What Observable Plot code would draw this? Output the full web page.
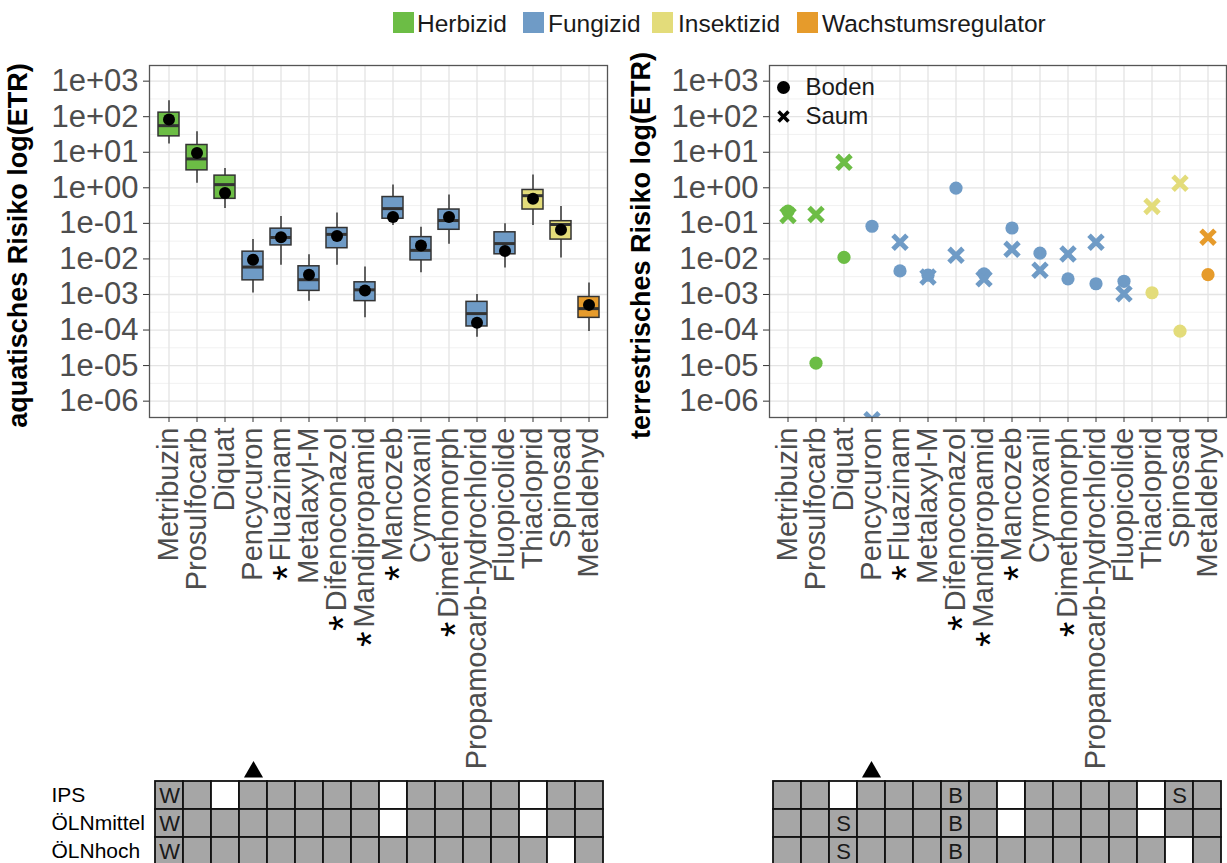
<!DOCTYPE html>
<html><head><meta charset="utf-8">
<script src="https://cdn.jsdelivr.net/npm/d3@7"></script>
<script src="https://cdn.jsdelivr.net/npm/@observablehq/plot@0.6"></script>
<style>
body{margin:0;width:1227px;height:863px;overflow:hidden;background:#fff;font-family:"Liberation Sans",Arial,sans-serif;position:relative}
.abs{position:absolute}
.key{position:absolute;top:12px;width:21px;height:21px}
.lab{position:absolute;top:10px;font-size:24.5px;line-height:28px;color:#1a1a1a;white-space:nowrap}
</style></head><body>
<div id="legend"></div>
<div id="left" class="abs" style="left:0;top:0"></div>
<div id="right" class="abs" style="left:615px;top:0"></div>
<div id="gridL" class="abs" style="left:0;top:760px"></div>
<div id="gridR" class="abs" style="left:615px;top:760px"></div>
<script>
// ---------- data ----------
const substances = ["Metribuzin","Prosulfocarb","Diquat","Pencycuron","Fluazinam","Metalaxyl-M","Difenoconazol","Mandipropamid","Mancozeb","Cymoxanil","Dimethomorph","Propamocarb-hydrochlorid","Fluopicolide","Thiacloprid","Spinosad","Metaldehyd"];
const substanceClass = ["Herbizid","Herbizid","Herbizid","Fungizid","Fungizid","Fungizid","Fungizid","Fungizid","Fungizid","Fungizid","Fungizid","Fungizid","Fungizid","Insektizid","Insektizid","Wachstumsregulator"];
const starred = ["Fluazinam","Difenoconazol","Mandipropamid","Mancozeb","Dimethomorph"];
const classes = ["Herbizid","Fungizid","Insektizid","Wachstumsregulator"];
const classColors = ["#6cbd45","#6f9bc6","#e3dc7a","#e69b2b"];

// aquatic risk (boxplot statistics + point)
const aqWhiskerHigh = [2.8e2, 3.8e1, 3.5, 3.5e-2, 1.55e-1, 1.3e-2, 1.95e-1, 5.9e-3, 1.2, 7.8e-2, 6.3e-1, 1.0e-3, 9.8e-2, 2.3, 3.0e-1, 2.1e-3];
const aqQ3          = [1.3e2, 1.6e1, 2.2, 1.6e-2, 7.1e-2, 6.2e-3, 7.4e-2, 2.2e-3, 5.5e-1, 4.1e-2, 2.45e-1, 6.2e-4, 5.6e-2, 8.7e-1, 1.15e-1, 8.5e-4];
const aqMedian      = [5.6e1, 6.5, 1.23, 5.9e-3, 4.0e-2, 2.6e-3, 4.9e-2, 1.35e-3, 2.6e-1, 1.74e-2, 1.2e-1, 2.9e-4, 2.7e-2, 6.0e-1, 9.3e-2, 4.0e-4];
const aqQ1          = [2.8e1, 3.1, 4.9e-1, 2.5e-3, 2.4e-2, 1.26e-3, 2.0e-2, 6.5e-4, 1.35e-1, 9.1e-3, 6.6e-2, 1.26e-4, 1.35e-2, 2.45e-1, 3.5e-2, 2.2e-4];
const aqWhiskerLow  = [1.7e1, 1.35, 2.6e-1, 1.1e-3, 6.6e-3, 6.5e-4, 6.6e-3, 2.2e-4, 8.7e-2, 4.1e-3, 2.6e-2, 6.3e-5, 5.6e-3, 8.7e-2, 1.07e-2, 9.1e-5];
const aqPoint       = [8.3e1, 9.5, 7.2e-1, 9.5e-3, 4.1e-2, 3.6e-3, 4.4e-2, 1.3e-3, 1.5e-1, 2.4e-2, 1.5e-1, 1.6e-4, 1.66e-2, 4.9e-1, 6.6e-2, 5.1e-4];

// terrestrial risk
const terrBoden = [2.2e-1, 1.17e-5, 1.1e-2, 8.3e-2, 4.6e-3, 3.5e-3, 9.8e-1, 3.8e-3, 7.4e-2, 1.45e-2, 2.75e-3, 2.0e-3, 2.35e-3, 1.12e-3, 9.3e-5, 3.6e-3];
const terrSaum  = [1.66e-1, 1.78e-1, 5.2, 3.0e-7, 2.95e-2, 3.1e-3, 1.26e-2, 2.75e-3, 1.86e-2, 4.8e-3, 1.38e-2, 2.95e-2, 1.05e-3, 3.0e-1, 1.35, 4.1e-2];

const yTickExponents = [3, 2, 1, 0, -1, -2, -3, -4, -5, -6];
const yDomainExponents = [-6.46, 3.44];

// status grids
const gridRows = ["IPS", "ÖLNmittel", "ÖLNhoch"];
const gridLeft = [
  ["W","g","w","g","g","g","g","g","w","g","g","g","g","w","g","g"],
  ["W","g","g","g","g","g","g","g","w","g","g","g","g","w","g","g"],
  ["W","g","g","g","g","g","g","g","g","g","g","g","g","g","w","g"]
];
const gridRight = [
  ["g","g","w","g","g","g","B","g","w","g","g","g","g","w","S","g"],
  ["g","g","S","g","g","g","B","g","w","g","g","g","g","w","g","g"],
  ["g","g","S","g","g","g","B","g","g","g","g","g","g","g","w","g"]
];
const markedSubstance = "Pencycuron";

// ---------- tables ----------
const aq = substances.map((s, i) => ({s, cls: substanceClass[i], hi: aqWhiskerHigh[i], q3: aqQ3[i], med: aqMedian[i], q1: aqQ1[i], lo: aqWhiskerLow[i], pt: aqPoint[i]}));
const terr = substances.map((s, i) => ({s, cls: substanceClass[i], boden: terrBoden[i], saum: terrSaum[i]}));

// ---------- legend ----------
const legendPos = [[393, 417], [523, 548], [652, 678], [797, 822]];
const lg = document.getElementById("legend");
classes.forEach((c, i) => {
  const k = document.createElement("div"); k.className = "key"; k.style.left = legendPos[i][0] + "px"; k.style.background = classColors[i]; lg.appendChild(k);
  const t = document.createElement("div"); t.className = "lab"; t.style.left = legendPos[i][1] + "px"; t.textContent = c; lg.appendChild(t);
});

// ---------- helpers ----------
const font = "'Liberation Sans', Arial, sans-serif";
const fmt = d => { const e = Math.round(Math.log10(d)); return "1e" + (e < 0 ? "-" : "+") + String(Math.abs(e)).padStart(2, "0"); };
const yTicks = yTickExponents.map(e => 10 ** e);
const yMinor = yTickExponents.map(e => 10 ** (e - 0.5)).filter(v => Math.log10(v) > yDomainExponents[0]);
const yDomain = yDomainExponents.map(e => 10 ** e);
const xLabel = d => starred.includes(d) ? "*" + d : d;

function starLabels(svg) {
  svg.querySelectorAll("text").forEach(t => {
    const s = t.textContent;
    if (s.startsWith("*") && starred.includes(s.slice(1))) {
      while (t.firstChild) t.removeChild(t.firstChild);
      const a = document.createElementNS("http://www.w3.org/2000/svg", "tspan");
      a.textContent = "*"; a.setAttribute("fill", "black"); a.setAttribute("font-size", "40"); a.setAttribute("dy", "11");
      const b = document.createElementNS("http://www.w3.org/2000/svg", "tspan");
      b.textContent = s.slice(1); b.setAttribute("dy", "-11"); b.setAttribute("dx", "4");
      t.appendChild(a); t.appendChild(b);
    }
  });
}

function basePanel(W, ml, mr, title, titleDx, marks) {
  return Plot.plot({
    width: W, height: 780, marginLeft: ml, marginRight: mr, marginTop: 65, marginBottom: 363,
    style: {fontFamily: font, background: "transparent", overflow: "visible"},
    x: {type: "band", domain: substances, paddingInner: 0.25, paddingOuter: 0.225, axis: null},
    y: {type: "log", domain: yDomain, axis: null},
    color: {domain: classes, range: classColors},
    marks: [
      Plot.ruleY(yMinor, {stroke: "#efefef", strokeWidth: 0.9}),
      Plot.ruleY(yTicks, {stroke: "#e4e4e4", strokeWidth: 1.3}),
      Plot.ruleX(substances, {x: d => d, stroke: "#e4e4e4", strokeWidth: 1.3}),
      ...marks,
      Plot.frame({stroke: "#555", strokeWidth: 1.3}),
      Plot.axisY({ticks: yTicks, tickFormat: fmt, fontSize: 31, tickSize: 6, tickPadding: 5, label: null, fill: "#4d4d4d", stroke: "#333"}),
      Plot.axisX({tickFormat: xLabel, tickRotate: -90, fontSize: 29, tickSize: 5, tickPadding: 5, label: null, fill: "#4d4d4d", stroke: "#333"}),
      Plot.text([title], {text: d => d, frameAnchor: "left", textAnchor: "middle", rotate: -90, dx: titleDx, dy: 4, fontSize: 27, fontWeight: "bold", fill: "black"})
    ]
  });
}

// ---------- left panel ----------
const left = basePanel(615, 149, 8, "aquatisches Risiko log(ETR)", -131, [
  Plot.ruleX(aq, {x: "s", y1: "lo", y2: "hi", stroke: "#333", strokeWidth: 1.5}),
  Plot.barY(aq, {x: "s", y1: "q1", y2: "q3", fill: "cls", stroke: "#333", strokeWidth: 1.5}),
  Plot.tickY(aq, {x: "s", y: "med", stroke: "#333", strokeWidth: 3}),
  Plot.dot(aq, {x: "s", y: "pt", r: 6, fill: "black"})
]);
starLabels(left);
document.getElementById("left").appendChild(left);

// ---------- right panel ----------
const right = basePanel(612, 154, 1, "terrestrisches Risiko log(ETR)", -128, [
  Plot.dot(terr, {x: "s", y: "boden", r: 6.6, fill: "cls"}),
  Plot.dot(terr, {x: "s", y: "saum", r: 6.4, symbol: "times", stroke: "cls", strokeWidth: 5, clip: true}),
  Plot.dot(["Boden"], {frameAnchor: "top-left", dx: 14, dy: 22, r: 6.5, fill: "black"}),
  Plot.dot(["Saum"], {frameAnchor: "top-left", dx: 14, dy: 51, r: 4.6, symbol: "times", stroke: "black", strokeWidth: 3.5}),
  Plot.text(["Boden"], {text: d => d, frameAnchor: "top-left", textAnchor: "start", lineAnchor: "middle", dx: 36, dy: 22, fontSize: 24, fill: "#1a1a1a"}),
  Plot.text(["Saum"], {text: d => d, frameAnchor: "top-left", textAnchor: "start", lineAnchor: "middle", dx: 36, dy: 51, fontSize: 24, fill: "#1a1a1a"})
]);
starLabels(right);
document.getElementById("right").appendChild(right);

// ---------- grids ----------
function gridPlot(codes, W, ml, mr, showRowLabels) {
  const cells = [];
  gridRows.forEach((row, r) => codes[r].forEach((c, i) => cells.push({row, s: substances[i], code: c})));
  const marks = [
    Plot.cell(cells, {x: "s", y: "row", fill: d => d.code === "w" ? "white" : "#a6a6a6", stroke: "#111", strokeWidth: 1.8}),
    Plot.text(cells.filter(d => d.code !== "w" && d.code !== "g"), {x: "s", y: "row", text: "code", fontSize: 22, fill: "#1a1a1a"}),
    Plot.dot([markedSubstance], {x: d => d, frameAnchor: "top", dy: -9.5, symbol: "triangle", r: 7.1, fill: "black"})
  ];
  if (showRowLabels) marks.push(Plot.text(gridRows, {y: d => d, text: d => d, frameAnchor: "left", textAnchor: "start", dx: -100, fontSize: 21, fill: "black"}));
  return Plot.plot({
    width: W, height: 105, marginLeft: ml, marginRight: mr, marginTop: 21, marginBottom: 0,
    style: {fontFamily: font, background: "transparent", overflow: "visible"},
    x: {type: "band", domain: substances, padding: 0, axis: null},
    y: {type: "band", domain: gridRows, padding: 0, axis: null},
    marks
  });
}
document.getElementById("gridL").appendChild(gridPlot(gridLeft, 615, 151, 9, true));
document.getElementById("gridR").appendChild(gridPlot(gridRight, 612, 156, 5, false));
</script>
</body></html>
